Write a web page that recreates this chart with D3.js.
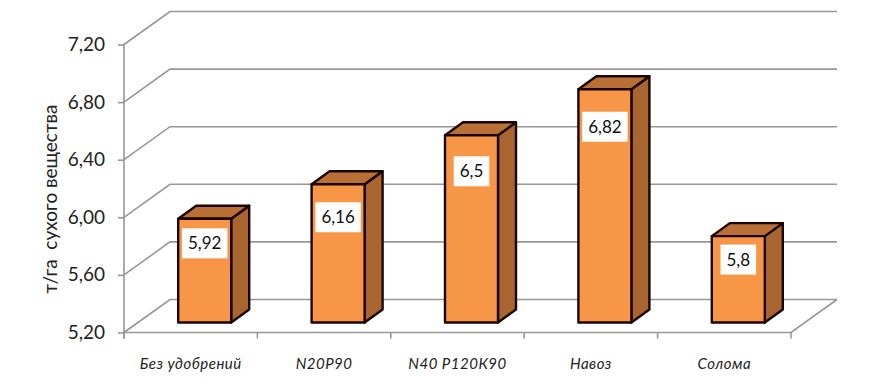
<!DOCTYPE html>
<html><head><meta charset="utf-8">
<script src="https://cdn.jsdelivr.net/npm/d3@7/dist/d3.min.js"></script>
<style>html,body{margin:0;padding:0;background:#fff}svg{display:block}</style>
</head><body><svg id="c" width="880" height="385"></svg>
<script>
const categories = ["Без удобрений","N20P90","N40 P120К90","Навоз","Солома"];
const values = [5.92,6.16,6.5,6.82,5.8];
const valueLabels = ["5,92","6,16","6,5","6,82","5,8"];
const yTicks = [5.2,5.6,6.0,6.4,6.8,7.2];
const yTitle = "т/га  сухого вещества";
const labelDrops = [24.5,33,36,37.5,23.5];

const svg=d3.select("#c");
const font='Lato,"Open Sans","Noto Sans",sans-serif';
const gridC="#979797", sw=1.6;
const y=d3.scaleLinear().domain([5.2,7.2]).range([332.5,44.5]);
const x=d3.scaleBand().domain(categories).range([124,791]).paddingInner(0).paddingOuter(0);
const wall={dx:46,dy:-33};
const barD={dx:18,dy:-13};
const front=-10;
const barW=53, barOff=(x.bandwidth()-barW)/2+14;

const g=svg.append("g").attr("fill","none").attr("stroke",gridC).attr("stroke-width",sw);
g.selectAll("path.grid").data(yTicks).join("path").attr("class","grid")
 .attr("d",v=>`M${x.range()[0]},${y(v)}L${x.range()[0]+wall.dx},${y(v)+wall.dy}L${x.range()[1]+wall.dx},${y(v)+wall.dy}`);
g.append("path").attr("d",`M${x.range()[0]},${y(5.2)}L${x.range()[1]},${y(5.2)}L${x.range()[1]+wall.dx},${y(5.2)+wall.dy}`);

const yAxis=d3.axisLeft(y).tickValues(yTicks).tickSize(6).tickPadding(13)
  .tickFormat(d=>d3.format(".2f")(d).replace(".",","));
const ya=svg.append("g").attr("transform","translate(124,0)").call(yAxis);
ya.select(".domain").attr("stroke",gridC).attr("stroke-width",sw).attr("d",`M0,${y(7.2)}V${y(5.2)+6}`);
ya.selectAll("line").attr("stroke",gridC).attr("stroke-width",sw);
ya.selectAll("text").attr("font-family",font).attr("font-size",19).attr("fill","#222");

const xa=svg.append("g").attr("transform",`translate(0,${y(5.2)})`);
xa.selectAll("line").data([...categories.map(c=>x(c)),x.range()[1]]).join("line")
  .attr("x1",d=>d).attr("x2",d=>d).attr("y1",0).attr("y2",6).attr("stroke",gridC).attr("stroke-width",sw);
svg.append("g").selectAll("text").data(categories).join("text")
  .attr("x",c=>x(c)+x.bandwidth()/2).attr("y",369)
  .attr("text-anchor","middle").attr("font-family",font).attr("font-style","italic")
  .attr("font-size",15).attr("letter-spacing",0.5).attr("fill","#222").text(c=>c);

svg.append("text").attr("transform","translate(57,199) rotate(-90)")
  .attr("text-anchor","middle").attr("font-family",font).attr("font-size",19)
  .attr("fill","#222").style("white-space","pre").text(yTitle);

const rows=categories.map((c,i)=>({c,v:values[i],l:valueLabels[i],d:labelDrops[i]}));
const bars=svg.append("g").selectAll("g").data(rows).join("g")
  .attr("stroke","#1a0500").attr("stroke-width",2.4).attr("stroke-linejoin","round");
const X=d=>x(d.c)+barOff, T=d=>y(d.v)+front, B=()=>y(5.2)+front;
bars.append("path").attr("fill","#a9652f")
  .attr("d",d=>`M${X(d)+barW},${T(d)}l${barD.dx},${barD.dy}V${B()+barD.dy}l${-barD.dx},${-barD.dy}Z`);
bars.append("path").attr("fill","#b96f35")
  .attr("d",d=>`M${X(d)},${T(d)}l${barD.dx},${barD.dy}h${barW}l${-barD.dx},${-barD.dy}Z`);
bars.append("rect").attr("fill","#f79646")
  .attr("x",X).attr("y",T).attr("width",barW).attr("height",d=>B()-T(d));

const lab=svg.append("g").selectAll("g").data(rows).join("g")
  .attr("transform",d=>`translate(${X(d)+barW/2},${T(d)+d.d})`);
lab.append("text").attr("text-anchor","middle").attr("dy","0.35em")
  .attr("font-family",font).attr("font-size",17).attr("fill","#111").text(d=>d.l);
lab.each(function(){
  const t=d3.select(this).select("text"),w=t.node().getComputedTextLength()+12;
  d3.select(this).insert("rect","text").attr("x",-w/2).attr("y",-15).attr("width",w).attr("height",30).attr("fill","#fff");
});
</script></body></html>
